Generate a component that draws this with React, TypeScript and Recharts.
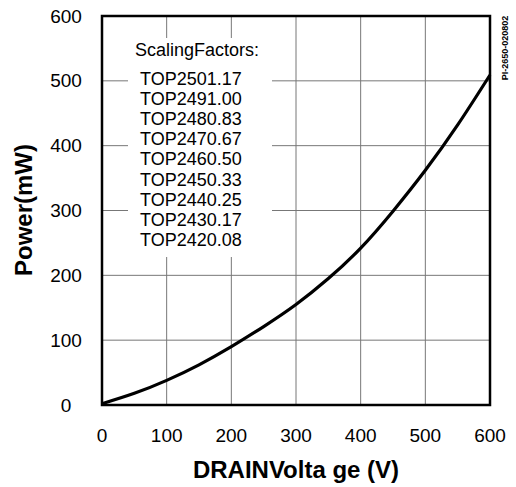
import { LineChart, Line, XAxis, YAxis, CartesianGrid, ReferenceArea } from "recharts";

const drainVoltage = [0, 50, 100, 150, 200, 250, 300, 350, 400, 450, 500, 550, 600];
const powerMw = [2, 18, 38, 62, 90, 121, 155, 195, 242, 299, 362, 432, 509];
const xTicks = [0, 100, 200, 300, 400, 500, 600];
const yTicks = [0, 100, 200, 300, 400, 500, 600];
const scalingFactors = [
  "TOP2501.17",
  "TOP2491.00",
  "TOP2480.83",
  "TOP2470.67",
  "TOP2460.50",
  "TOP2450.33",
  "TOP2440.25",
  "TOP2430.17",
  "TOP2420.08",
];

const data = drainVoltage.map((v, i) => ({ v, p: powerMw[i] }));

const FONT = '"Liberation Sans", Arial, Helvetica, sans-serif';

const YTick = ({ x, y, payload }: any) => (
  <text x={x - 28} y={y} textAnchor="middle" dominantBaseline="central" fontSize={19} fill="#000" fontFamily={FONT}>
    {payload.value}
  </text>
);

const XTick = ({ x, y, payload }: any) => (
  <text x={x} y={y + 29} textAnchor="middle" fontSize={19} fill="#000" fontFamily={FONT}>
    {payload.value}
  </text>
);

export default function App() {
  return (
    <div style={{ position: "absolute", left: 0, top: 0, width: 516, height: 487, background: "#fff", fontFamily: FONT }}>
      <LineChart width={516} height={487} data={data} margin={{ top: 16, right: 26, left: 0, bottom: 0 }}>
        <CartesianGrid stroke="#777" strokeWidth={1} />
        <XAxis
          dataKey="v"
          type="number"
          domain={[0, 600]}
          ticks={xTicks}
          height={82}
          tickLine={false}
          axisLine={false}
          tick={<XTick />}
          interval={0}
        />
        <YAxis
          type="number"
          domain={[0, 600]}
          ticks={yTicks}
          width={102}
          tickLine={false}
          axisLine={false}
          tick={<YTick />}
          interval={0}
        />
        <ReferenceArea x1={0} x2={600} y1={0} y2={600} fill="none" stroke="#000" strokeWidth={2.5} ifOverflow="visible" />
        <Line
          dataKey="p"
          type="natural"
          stroke="#000"
          strokeWidth={3.2}
          dot={false}
          isAnimationActive={false}
        />
      </LineChart>

      {/* white panel behind the scaling factor list */}
      <div style={{ position: "absolute", left: 128, top: 38, width: 144, height: 219, background: "#fff" }} />
      <div style={{ position: "absolute", left: 135, top: 40, fontSize: 18, lineHeight: "20px", whiteSpace: "nowrap" }}>
        ScalingFactors:
      </div>
      {scalingFactors.map((s, i) => (
        <div
          key={s}
          style={{ position: "absolute", left: 140, top: 69 + i * 20.1, fontSize: 18, lineHeight: "20px", whiteSpace: "nowrap" }}
        >
          {s}
        </div>
      ))}

      <div
        style={{
          position: "absolute",
          left: 296,
          top: 470,
          transform: "translate(-50%, -50%)",
          fontSize: 24,
          fontWeight: "bold",
          whiteSpace: "nowrap",
        }}
      >
        DRAINVolta ge (V)
      </div>
      <div
        style={{
          position: "absolute",
          left: 24,
          top: 210,
          transform: "translate(-50%, -50%) rotate(-90deg)",
          fontSize: 24,
          fontWeight: "bold",
          whiteSpace: "nowrap",
        }}
      >
        Power(mW)
      </div>
      <div
        style={{
          position: "absolute",
          left: 505,
          top: 48,
          transform: "translate(-50%, -50%) rotate(-90deg)",
          fontSize: 9,
          fontWeight: "bold",
          whiteSpace: "nowrap",
        }}
      >
        PI-2650-020802
      </div>
    </div>
  );
}
